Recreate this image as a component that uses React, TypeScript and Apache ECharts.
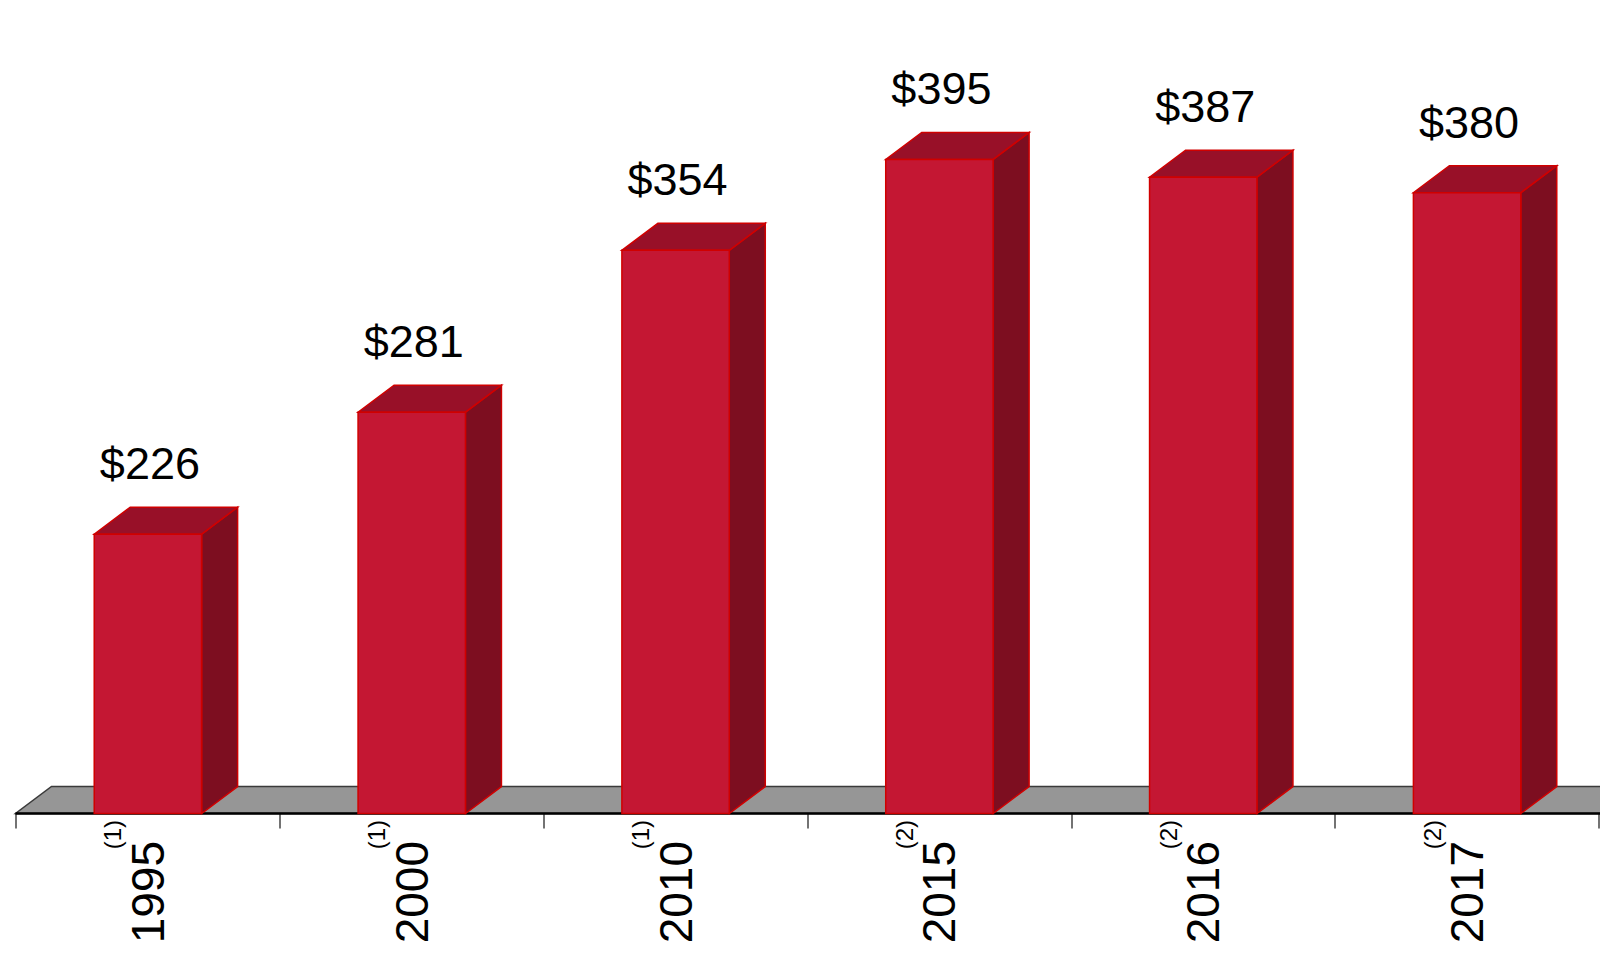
import React, { useEffect, useRef } from "react";
import * as echarts from "echarts";

const categories = ["1995", "2000", "2010", "2015", "2016", "2017"];
const notes = ["(1)", "(1)", "(1)", "(2)", "(2)", "(2)"];
const values = [226, 281, 354, 395, 387, 380];
const axisMin = 100;
const axisMax = 450;

const FONT = "'Liberation Sans', Arial, sans-serif";
const DX = 36;
const DY = 27;

export default function App() {
  const ref = useRef<HTMLDivElement>(null);

  useEffect(() => {
    document.body.style.margin = "0";
    if (!ref.current) return;
    const chart = echarts.init(ref.current, undefined, { renderer: "svg" });

    const option: any = {
      animation: false,
      backgroundColor: "#ffffff",
      grid: {
        left: 16,
        right: 1,
        top: 37.5,
        bottom: 155.5,
        containLabel: false,
        outerBoundsMode: "none",
      },
      xAxis: {
        type: "category",
        data: categories,
        boundaryGap: true,
        axisLine: { show: false },
        axisTick: {
          show: true,
          interval: 0,
          length: 15,
          lineStyle: { color: "#444444", width: 1.5 },
        },
        axisLabel: { show: false },
        splitLine: { show: false },
      },
      yAxis: {
        type: "value",
        min: axisMin,
        max: axisMax,
        show: false,
        splitLine: { show: false },
      },
      series: [
        {
          type: "custom",
          z: 1,
          clip: false,
          silent: true,
          data: [[0, axisMin]],
          renderItem: (params: any, api: any) => {
            const cs = params.coordSys;
            const yb = api.coord([0, axisMin])[1];
            const x0 = cs.x - 0.5;
            const x1 = cs.x + cs.width + 60;
            return {
              type: "group",
              children: [
                {
                  type: "polygon",
                  shape: {
                    points: [
                      [x0, yb],
                      [x1, yb],
                      [x1 + DX, yb - DY],
                      [x0 + DX, yb - DY],
                    ],
                  },
                  style: { fill: "#969696", stroke: "#3a3a3a", lineWidth: 1.5 },
                },
                {
                  type: "line",
                  shape: { x1: x0, y1: yb, x2: x1, y2: yb },
                  style: { stroke: "#000000", lineWidth: 2.5 },
                },
              ],
            };
          },
        },
        {
          type: "custom",
          z: 3,
          clip: false,
          data: values.map((v, i) => [i, v]),
          renderItem: (params: any, api: any) => {
            const idx = api.value(0);
            const v = api.value(1);
            const top = api.coord([idx, v]);
            const base = api.coord([idx, axisMin]);
            const band = api.size([1, 0])[0];
            const w = band * 0.407;
            const cx = top[0];
            const yt = top[1];
            const yb = base[1];
            const xl = cx - w / 2;
            const xr = cx + w / 2;
            const edge = "#d00000";
            return {
              type: "group",
              children: [
                {
                  type: "polygon",
                  shape: {
                    points: [
                      [xr, yt],
                      [xr + DX, yt - DY],
                      [xr + DX, yb - DY],
                      [xr, yb],
                    ],
                  },
                  style: { fill: "#7d0e20", stroke: edge, lineWidth: 1.5 },
                },
                {
                  type: "polygon",
                  shape: {
                    points: [
                      [xl, yt],
                      [xr, yt],
                      [xr + DX, yt - DY],
                      [xl + DX, yt - DY],
                    ],
                  },
                  style: { fill: "#981028", stroke: edge, lineWidth: 1.5 },
                },
                {
                  type: "rect",
                  shape: { x: xl, y: yt, width: w, height: yb - yt },
                  style: { fill: "#c41733", stroke: edge, lineWidth: 1.5 },
                },
                {
                  type: "text",
                  x: cx + 2,
                  y: yt - 70.5,
                  style: {
                    text: "$" + values[idx],
                    x: 0,
                    y: 0,
                    align: "center",
                    verticalAlign: "middle",
                    fontSize: 45,
                    fontFamily: FONT,
                    fill: "#000000",
                  },
                },
                {
                  type: "text",
                  x: cx,
                  y: 841,
                  rotation: Math.PI / 2,
                  style: {
                    text: categories[idx],
                    x: 0,
                    y: 0,
                    align: "right",
                    verticalAlign: "middle",
                    fontSize: 46,
                    fontFamily: FONT,
                    fill: "#000000",
                  },
                },
                {
                  type: "text",
                  x: cx - 35,
                  y: 820,
                  rotation: Math.PI / 2,
                  style: {
                    text: notes[idx],
                    x: 0,
                    y: 0,
                    align: "right",
                    verticalAlign: "middle",
                    fontSize: 24,
                    fontFamily: FONT,
                    fill: "#000000",
                  },
                },
              ],
            };
          },
        },
      ],
    };

    chart.setOption(option);
    return () => {
      chart.dispose();
    };
  }, []);

  return <div ref={ref} style={{ width: 1600, height: 969 }} />;
}
